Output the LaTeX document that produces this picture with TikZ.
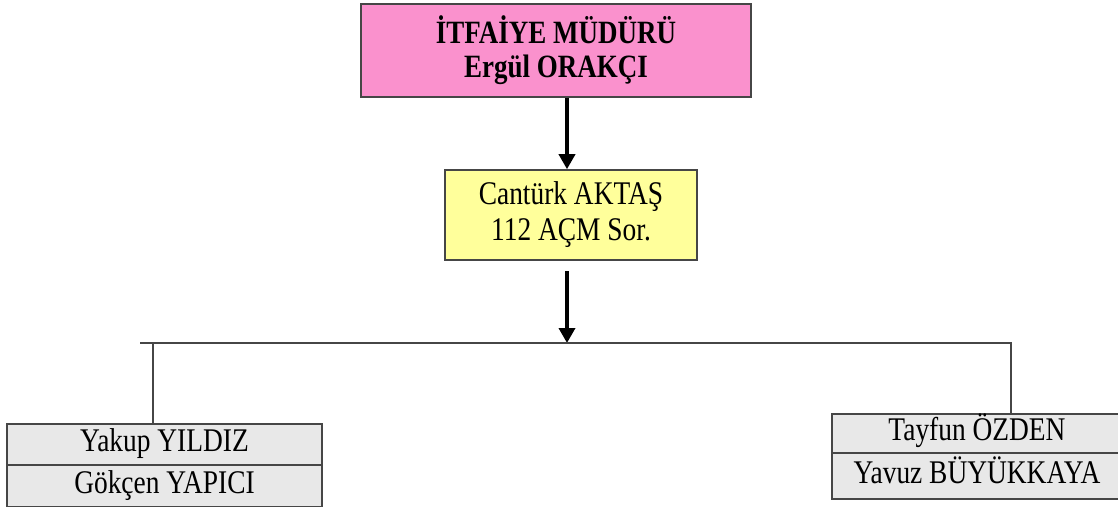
\documentclass[tikz,border=0pt]{standalone}
\usepackage{fontspec}
\setmainfont{Liberation Serif}[FakeStretch=0.83]
\usetikzlibrary{arrows.meta, positioning, calc}
\definecolor{chiefPink}{RGB}{250, 145, 205}
\definecolor{leadYellow}{RGB}{255, 255, 155}
\definecolor{staffGray}{RGB}{232, 232, 232}
\definecolor{edgeGray}{RGB}{70, 70, 70}
\tikzset{
    orgArrow/.style={line width=2pt, -{Triangle[width=0.32cm, length=0.3cm]}},
    busLine/.style={line width=0.9pt, draw=edgeGray},
}

\begin{document}
\begin{tikzpicture}[
    chief_node/.style={
        rectangle,
        draw=edgeGray,
        line width=1.1pt,
        minimum width=7.8cm,
        minimum height=1.86cm,
        align=center,
        fill=chiefPink,
        font=\fontsize{18.5}{19.4}\selectfont\bfseries
    },
    lead_node/.style={
        rectangle,
        draw=edgeGray,
        line width=0.9pt,
        minimum width=5.04cm,
        minimum height=1.8cm,
        align=center,
        fill=leadYellow,
        font=\fontsize{18.8}{20.5}\selectfont
    },
    staff_cell/.style={
        rectangle,
        draw=edgeGray,
        line width=0.9pt,
        fill=staffGray,
        inner sep=0pt,
        text height=0.8em,
        text depth=0pt,
        font=\fontsize{18.8}{20}\selectfont
    }
]
    \useasboundingbox (0, 0) rectangle (22.36, -10.12);

    % Management
    \node[chief_node] (chief) at (11.12, -1.01) {
        İTFAİYE MÜDÜRÜ\\
        Ergül ORAKÇI
    };
    \node[lead_node] (lead) at (11.42, -4.3) {
        Cantürk AKTAŞ\\
        112 AÇM Sor.
    };

    % Staff
    \node[staff_cell, minimum width=6.3cm, minimum height=0.82cm] (yakup) at (3.29, -8.89) {Yakup YILDIZ};
    \node[staff_cell, minimum width=6.3cm, minimum height=0.84cm] (gokcen) at (3.29, -9.72) {Gökçen YAPICI};
    \node[staff_cell, minimum width=5.8cm, minimum height=0.78cm] (tayfun) at (19.54, -8.67) {Tayfun ÖZDEN};
    \node[staff_cell, minimum width=5.8cm, minimum height=0.92cm] (yavuz) at (19.54, -9.52) {Yavuz BÜYÜKKAYA};

    % Connectors
    \coordinate (spine) at (11.34, 0);
    \coordinate (busL) at (2.8, -6.86);
    \coordinate (dropL) at (3.06, -6.86);
    \coordinate (dropR) at (20.22, -6.86);
    \coordinate (leadOut) at (11.34, -5.42);

    \draw[orgArrow] (chief.south -| spine) -- (lead.north -| spine);
    \draw[orgArrow] (leadOut) -- (leadOut |- busL);
    \draw[busLine] (busL) -- (dropR) -- (dropR |- tayfun.north);
    \draw[busLine] (dropL) -- (dropL |- yakup.north);
\end{tikzpicture}
\end{document}
